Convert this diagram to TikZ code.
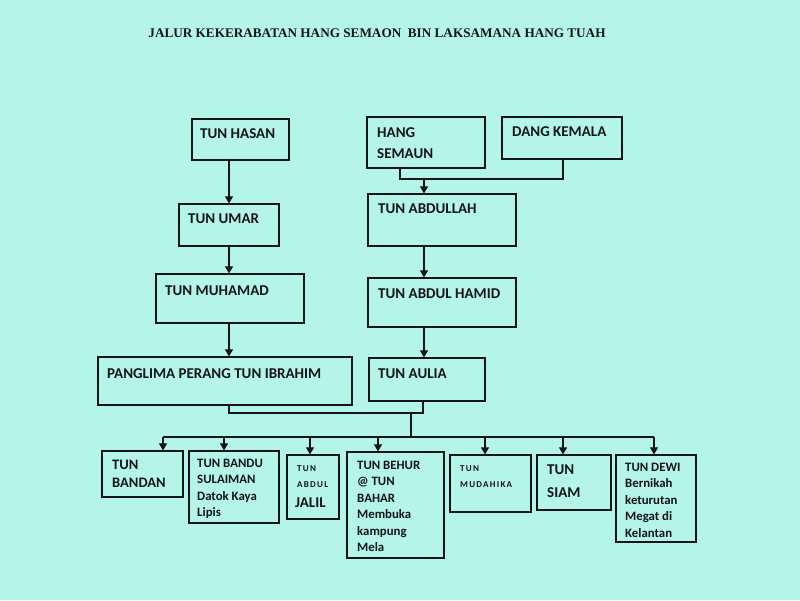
\documentclass[tikz,border=0pt]{standalone}
\usepackage{fontspec}
\setmainfont{Carlito}
\newfontfamily\titlefont{Liberation Serif}
\newfontfamily\spacedfont[LetterSpace=14]{Carlito}
\usetikzlibrary{arrows.meta}
\definecolor{bg}{RGB}{180,245,230}
\definecolor{ink}{RGB}{20,20,30}
\begin{document}
\begin{tikzpicture}[x=1pt,y=-1pt,
  box/.style={draw=ink,line width=1.2pt,inner sep=0pt,rectangle},
  lbl/.style={anchor=north west,inner sep=0pt,text=ink,align=left,font=\bfseries\fontsize{15}{21}\selectfont},
  sml/.style={anchor=north west,inner sep=0pt,text=ink,align=left,font=\bfseries\fontsize{12.8}{16.4}\selectfont},
  tny/.style={anchor=north west,inner sep=0pt,text=ink,font=\spacedfont\bfseries\fontsize{9}{10}\selectfont},
  arr/.style={-{Triangle[width=8pt,length=7pt]},line width=1.1pt,draw=ink},
  ln/.style={line width=1.1pt,draw=ink}]
\fill[bg] (0,0) rectangle (800,600);
\useasboundingbox (0,0) rectangle (800,600);

\node[inner sep=0pt,text=ink,font=\titlefont\bfseries\fontsize{13.2}{15}\selectfont] (title) at (377,33) {JALUR KEKERABATAN HANG SEMAON\ \ BIN LAKSAMANA HANG TUAH};

% boxes
\node[box,minimum width=97pt,minimum height=41pt] (hasan) at (240.5,139.5) {};
\node[box,minimum width=118pt,minimum height=51pt] (semaun) at (426,142.5) {};
\node[box,minimum width=120pt,minimum height=42pt] (kemala) at (562,138) {};
\node[box,minimum width=100pt,minimum height=42pt] (umar) at (229,225) {};
\node[box,minimum width=148pt,minimum height=52pt] (abdullah) at (442,220) {};
\node[box,minimum width=148pt,minimum height=49pt] (muhamad) at (230,298.5) {};
\node[box,minimum width=148pt,minimum height=49pt] (hamid) at (442,302.5) {};
\node[box,minimum width=254pt,minimum height=48pt] (ibrahim) at (225,381) {};
\node[box,minimum width=116pt,minimum height=43pt] (aulia) at (427,379.5) {};
\node[box,minimum width=81pt,minimum height=46pt] (bandan) at (142.5,474) {};
\node[box,minimum width=90pt,minimum height=72pt] (bandu) at (234,487) {};
\node[box,minimum width=52pt,minimum height=64pt] (jalil) at (313,487) {};
\node[box,minimum width=97pt,minimum height=106pt] (behur) at (395.5,505) {};
\node[box,minimum width=81pt,minimum height=57pt] (mudahika) at (490.5,483.5) {};
\node[box,minimum width=74pt,minimum height=55pt] (siam) at (574,482.5) {};
\node[box,minimum width=80pt,minimum height=87pt] (dewi) at (656,498.5) {};

% texts
\node[lbl] (thasan) at (200,128.2) {TUN HASAN};
\node[lbl] (tsemaun) at (377,127.2) {HANG\\SEMAUN};
\node[lbl] (tkemala) at (512,126.2) {DANG KEMALA};
\node[lbl] (tumar) at (188,213.2) {TUN UMAR};
\node[lbl] (tmuhamad) at (165,285.2) {TUN MUHAMAD};
\node[lbl] (tabdullah) at (378,203.2) {TUN ABDULLAH};
\node[lbl] (thamid) at (378,288.2) {TUN ABDUL HAMID};
\node[lbl] (tibrahim) at (107,368.2) {PANGLIMA PERANG TUN IBRAHIM};
\node[lbl] (taulia) at (378,368.2) {TUN AULIA};
\node[lbl,font=\bfseries\fontsize{14.5}{18}\selectfont] (tbandan) at (112,460.3) {TUN\\BANDAN};
\node[sml] (tbandu) at (197,459) {TUN BANDU\\SULAIMAN\\Datok Kaya\\Lipis};
\node[tny] (tjalil1) at (297,465) {TUN};
\node[tny] (tjalil2) at (297,481) {ABDUL};
\node[lbl,font=\bfseries\fontsize{15}{18}\selectfont] (tjalil3) at (295,497.2) {JALIL};
\node[sml] (tbehur) at (357,461) {TUN BEHUR\\@ TUN\\BAHAR\\Membuka\\kampung\\Mela};
\node[tny] (tmud1) at (460,465) {TUN};
\node[tny] (tmud2) at (460,481) {MUDAHIKA};
\node[lbl,font=\bfseries\fontsize{15}{23}\selectfont] (tsiam) at (547,464.2) {TUN\\SIAM};
\node[sml] (tdewi) at (625,463) {TUN DEWI\\Bernikah\\keturutan\\Megat di\\Kelantan};

% coordinates
\coordinate (cL) at (229,0);
\coordinate (cR) at (424,0);
\coordinate (sj) at (424,179);
\coordinate (pj) at (229,413);
\coordinate (aj) at (423,413);
\coordinate (mj) at (411,413);
\coordinate (bus) at (411,437);
\coordinate (bL) at (163,437);
\coordinate (bR) at (654,437);

% connectors left column
\draw[arr] (umar.north |- hasan.south) -- (umar.north);
\draw[arr] (umar.south) -- (umar.south |- muhamad.north);
\draw[arr] (cL |- muhamad.south) -- (cL |- ibrahim.north);

% parents to abdullah
\draw[ln] (400,0 |- semaun.south) -- (400,179) -- (563,179) -- (563,0 |- kemala.south);
\draw[arr] (sj) -- (cR |- abdullah.north);
\draw[arr] (cR |- abdullah.south) -- (cR |- hamid.north);
\draw[arr] (cR |- hamid.south) -- (cR |- aulia.north);

% join to bus
\draw[ln] (cL |- ibrahim.south) -- (pj) -- (aj) -- (aj |- aulia.south);
\draw[ln] (mj) -- (bus);
\draw[ln] (bL) -- (bR);
\draw[arr] (bL) -- (bL |- bandan.north);
\draw[arr] (224,437) -- (224,0 |- bandu.north);
\draw[arr] (310,437) -- (310,0 |- jalil.north);
\draw[arr] (378,437) -- (378,0 |- behur.north);
\draw[arr] (485,437) -- (485,0 |- mudahika.north);
\draw[arr] (563,437) -- (563,0 |- siam.north);
\draw[arr] (bR) -- (bR |- dewi.north);
\end{tikzpicture}
\end{document}
